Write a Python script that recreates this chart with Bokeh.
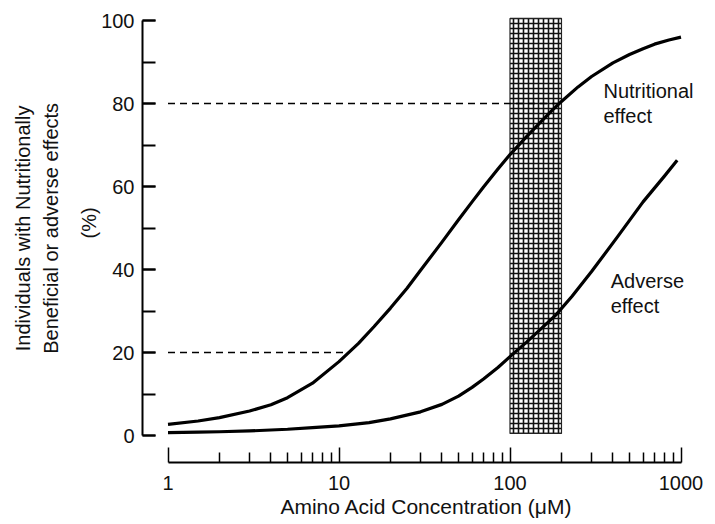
from bokeh.plotting import figure
from bokeh.models import FixedTicker, SingleIntervalTicker, BasicTickFormatter, LinearAxis, ColumnDataSource
from bokeh.core.properties import value
from bokeh.embed import file_html
from bokeh.resources import INLINE

# ---- data ----
x_nut = [1, 1.5, 2, 3, 4, 5, 7, 10, 13, 16, 20, 25, 30, 40, 50, 60, 70, 85, 100,
         125, 150, 175, 200, 250, 300, 400, 500, 600, 700, 850, 1000]
y_nut = [2.7, 3.5, 4.3, 5.9, 7.4, 9.1, 12.6, 17.8, 22.2, 26.2, 30.7, 35.5, 39.8, 46.6,
         52.0, 56.3, 59.9, 64.2, 67.7, 72.0, 75.4, 78.2, 80.5, 84.0, 86.5, 89.8, 91.8,
         93.2, 94.3, 95.3, 96.0]

x_adv = [1, 1.5, 2, 3, 5, 7, 10, 15, 20, 30, 40, 50, 60, 70, 85, 100, 125, 150, 185,
         230, 300, 424, 600, 800, 950]
y_adv = [0.7, 0.8, 0.9, 1.1, 1.5, 1.9, 2.3, 3.1, 4.0, 5.7, 7.5, 9.5, 11.6, 13.6, 16.4,
         19.0, 22.5, 25.5, 29, 33.5, 39.5, 47.8, 56.3, 62.5, 66.3]

band_x = [100, 200]          # shaded concentration band
band_y = [0.5, 100.5]

ref_levels = [80, 20]        # dashed reference levels
ref_x_end = [193, 11.3]      # where they meet the nutritional curve

x_major = [1, 10, 100, 1000]
x_minor_mult = [2, 3, 4, 5, 6, 7, 8, 9]
y_tick_step = 20

curve_labels = ["Nutritional", "effect", "Adverse", "effect"]
curve_label_x = [352, 352, 388, 388]
curve_label_y = [83.0, 77.0, 37.3, 31.3]

x_title = "Amino Acid Concentration (\u03bcM)"
NB = "\u00a0"
y_title_main = NB * 4 + "Individuals with Nutritionally\n" + NB * 4 + "Beneficial or adverse effects"
y_title_unit = NB * 6 + "(%)"

FONT = "Liberation Sans"
TXT = "#111111"

# ---- geometry (canvas pixels) ----
W, H = 715, 524
FL, FR, FT, FB = 142, 710, 16, 462
DEC = 171.0                          # pixels per decade
X1 = 167.5                           # pixel of x=1
x_start = 10 ** (-(X1 - FL) / DEC)
x_end = 10 ** ((FR - X1) / DEC)
PPU = 4.15                           # pixels per percent
Y0 = 435.0                           # pixel of y=0
y_start = -(FB - Y0) / PPU
y_end = (Y0 - FT) / PPU

p = figure(width=W, height=H, x_axis_type="log",
           x_range=(x_start, x_end), y_range=(y_start, y_end),
           output_backend="svg", toolbar_location=None,
           min_border_left=FL, min_border_right=W - FR,
           min_border_top=FT, min_border_bottom=H - FB)
p.outline_line_color = None
p.grid.visible = False
p.background_fill_color = "white"
p.border_fill_color = "white"

# band
p.quad(left=[band_x[0]], right=[band_x[1]], bottom=[band_y[0]], top=[band_y[1]],
       fill_color="white", line_color="#222222", line_width=1.2,
       hatch_pattern="+", hatch_scale=5, hatch_weight=1.6, hatch_color="#111111")

# dashed reference lines
for lev, xe in zip(ref_levels, ref_x_end):
    p.line([1, xe], [lev, lev], line_color="black", line_width=1.4, line_dash="7 5")

# curves
p.line(x_nut, y_nut, line_color="black", line_width=3.2, line_join="round")
p.line(x_adv, y_adv, line_color="black", line_width=3.2, line_join="round")

src = ColumnDataSource(dict(x=curve_label_x, y=curve_label_y, t=curve_labels))
p.text(x="x", y="y", text="t", source=src, text_font=value(FONT),
       text_font_size="20px", text_color=TXT, text_baseline="alphabetic", text_align="left")

# x axis
xa = p.xaxis[0]
xa.ticker = FixedTicker(ticks=x_major,
                        minor_ticks=[m * 10 ** k for k in range(3) for m in x_minor_mult])
xa.formatter = BasicTickFormatter()
xa.bounds = (x_major[0], x_major[-1])
xa.axis_line_width = 1.8
xa.major_tick_in = 15
xa.major_tick_out = 0
xa.minor_tick_in = 10
xa.minor_tick_out = 0
xa.major_tick_line_width = 1.5
xa.minor_tick_line_width = 1.5
xa.major_label_standoff = 13
xa.major_label_text_font = FONT
xa.major_label_text_font_size = "20px"
xa.major_label_text_color = TXT
xa.axis_label = x_title
xa.axis_label_standoff = 2
xa.axis_label_text_font = FONT
xa.axis_label_text_font_size = "21px"
xa.axis_label_text_font_style = "normal"
xa.axis_label_text_color = TXT

# y axis
ya = p.yaxis[0]
ya.ticker = SingleIntervalTicker(interval=y_tick_step, num_minor_ticks=2)
ya.bounds = (0, 100)
ya.axis_line_width = 2
ya.major_tick_in = 13
ya.major_tick_out = 0
ya.minor_tick_in = 13
ya.minor_tick_out = 0
ya.major_tick_line_width = 2
ya.minor_tick_line_width = 2
ya.major_label_standoff = 8
ya.major_label_text_font = FONT
ya.major_label_text_font_size = "20px"
ya.major_label_text_color = TXT
ya.axis_label = y_title_unit
ya.axis_label_standoff = -2
ya.axis_label_text_font = FONT
ya.axis_label_text_font_size = "20px"
ya.axis_label_text_font_style = "normal"
ya.axis_label_text_color = TXT

# outer title axis (label only)
ta = LinearAxis(ticker=FixedTicker(ticks=[]), bounds=(3.2, 100))
ta.axis_line_color = None
ta.major_tick_in = 0
ta.major_tick_out = 0
ta.minor_tick_in = 0
ta.minor_tick_out = 0
ta.axis_label = y_title_main
ta.axis_label_standoff = 14
ta.axis_label_text_font = FONT
ta.axis_label_text_font_size = "20px"
ta.axis_label_text_font_style = "normal"
ta.axis_label_text_color = TXT
ta.axis_label_text_line_height = 1.25
p.add_layout(ta, "left")

open("out.html", "w").write(file_html(p, INLINE))
